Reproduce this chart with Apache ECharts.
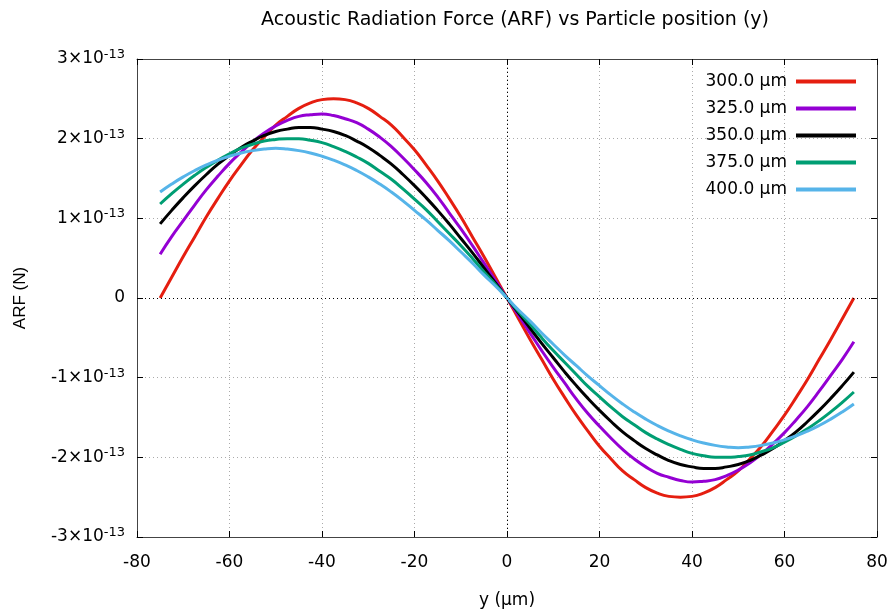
<!DOCTYPE html>
<html>
<head>
<meta charset="utf-8">
<script src="https://cdn.jsdelivr.net/npm/echarts@6/dist/echarts.min.js"></script>
<style>
  html, body { margin: 0; padding: 0; background: #fff; }
  #main { width: 894px; height: 616px; }
</style>
</head>
<body>
<div id="main"></div>
<script>
// particle position y (µm), -75 .. 75 every 2.5
var positions = [-75, -72.5, -70, -67.5, -65, -62.5, -60, -57.5, -55, -52.5, -50, -47.5, -45, -42.5, -40, -37.5,
                 -35, -32.5, -30, -27.5, -25, -22.5, -20, -17.5, -15, -12.5, -10, -7.5, -5, -2.5,
                 0, 2.5, 5, 7.5, 10, 12.5, 15, 17.5, 20, 22.5, 25, 27.5, 30, 32.5, 35,
                 37.5, 40, 42.5, 45, 47.5, 50, 52.5, 55, 57.5, 60, 62.5, 65, 67.5, 70, 72.5, 75];

// ARF values, in units of 1e-13 N
var arf300 = [0, 0.26, 0.52, 0.77, 1.02, 1.25, 1.47, 1.67, 1.86, 2.02, 2.17, 2.28, 2.38, 2.45, 2.49, 2.50,
              2.49, 2.45, 2.38, 2.28, 2.17, 2.02, 1.86, 1.67, 1.47, 1.25, 1.02, 0.77, 0.52, 0.26,
              0, -0.26, -0.52, -0.77, -1.02, -1.25, -1.47, -1.67, -1.86, -2.02, -2.17, -2.28, -2.38, -2.45, -2.49,
              -2.50, -2.49, -2.45, -2.38, -2.28, -2.17, -2.02, -1.86, -1.67, -1.47, -1.25, -1.02, -0.77, -0.52, -0.26, 0];
var arf325 = [0.55, 0.77, 0.97, 1.17, 1.36, 1.53, 1.69, 1.83, 1.96, 2.07, 2.16, 2.23, 2.28, 2.30, 2.31, 2.29,
              2.25, 2.20, 2.12, 2.02, 1.90, 1.76, 1.61, 1.45, 1.27, 1.07, 0.87, 0.66, 0.44, 0.22,
              0, -0.22, -0.44, -0.66, -0.87, -1.07, -1.27, -1.45, -1.61, -1.76, -1.90, -2.02, -2.12, -2.20, -2.25,
              -2.29, -2.31, -2.30, -2.28, -2.23, -2.16, -2.07, -1.96, -1.83, -1.69, -1.53, -1.36, -1.17, -0.97, -0.77, -0.55];
var arf350 = [0.93, 1.10, 1.26, 1.41, 1.55, 1.68, 1.79, 1.89, 1.97, 2.04, 2.09, 2.12, 2.14, 2.14, 2.12, 2.09,
              2.04, 1.97, 1.89, 1.79, 1.68, 1.55, 1.41, 1.26, 1.10, 0.93, 0.75, 0.57, 0.38, 0.19,
              0, -0.19, -0.38, -0.57, -0.75, -0.93, -1.10, -1.26, -1.41, -1.55, -1.68, -1.79, -1.89, -1.97, -2.04,
              -2.09, -2.12, -2.14, -2.14, -2.12, -2.09, -2.04, -1.97, -1.89, -1.79, -1.68, -1.55, -1.41, -1.26, -1.10, -0.93];
var arf375 = [1.18, 1.31, 1.43, 1.54, 1.64, 1.73, 1.81, 1.88, 1.93, 1.97, 1.99, 2.00, 2.00, 1.98, 1.95, 1.90,
              1.84, 1.77, 1.69, 1.59, 1.49, 1.37, 1.24, 1.11, 0.96, 0.81, 0.66, 0.50, 0.33, 0.17,
              0, -0.17, -0.33, -0.50, -0.66, -0.81, -0.96, -1.11, -1.24, -1.37, -1.49, -1.59, -1.69, -1.77, -1.84,
              -1.90, -1.95, -1.98, -2.00, -2.00, -1.99, -1.97, -1.93, -1.88, -1.81, -1.73, -1.64, -1.54, -1.43, -1.31, -1.18];
var arf400 = [1.33, 1.43, 1.52, 1.60, 1.67, 1.73, 1.78, 1.82, 1.85, 1.87, 1.88, 1.87, 1.85, 1.82, 1.78, 1.73,
              1.67, 1.60, 1.52, 1.43, 1.33, 1.22, 1.10, 0.98, 0.85, 0.72, 0.58, 0.44, 0.29, 0.15,
              0, -0.15, -0.29, -0.44, -0.58, -0.72, -0.85, -0.98, -1.10, -1.22, -1.33, -1.43, -1.52, -1.60, -1.67,
              -1.73, -1.78, -1.82, -1.85, -1.87, -1.88, -1.87, -1.85, -1.82, -1.78, -1.73, -1.67, -1.60, -1.52, -1.43, -1.33];

var seriesNames = ['300.0 µm', '325.0 µm', '350.0 µm', '375.0 µm', '400.0 µm'];
var seriesValues = [arf300, arf325, arf350, arf375, arf400];
var colors = ['#e51e10', '#9400d3', '#000000', '#009e73', '#56b4e9'];

var xTicks = { min: -80, max: 80, interval: 20 };
var yTicks = { min: -3, max: 3, interval: 1 };

var FONT = 'DejaVu Sans';
var frameColor = '#444';
var gridLine = { show: true, lineStyle: { color: '#aaa', type: [1, 3], width: 1 } };
var tick = { show: true, inside: true, length: 6, lineStyle: { color: '#000' } };

function pairs(vals) {
    return positions.map(function (p, i) { return [p, vals[i]]; });
}

var series = seriesValues.map(function (vals, i) {
    return {
        name: seriesNames[i],
        type: 'line',
        data: pairs(vals),
        smooth: 0.5,
        showSymbol: false,
        symbol: 'none',
        lineStyle: { width: 3, color: colors[i] },
        itemStyle: { color: colors[i] },
        z: 3
    };
});

// dotted zero axes
series.unshift({
    name: 'zero',
    type: 'line',
    data: [],
    silent: true,
    markLine: {
        silent: true,
        symbol: 'none',
        label: { show: false },
        lineStyle: { color: '#000', type: [1, 3], width: 1 },
        data: [{ xAxis: 0 }, { yAxis: 0 }]
    }
});

var chart = echarts.init(document.getElementById('main'), null, { renderer: 'canvas' });
chart.setOption({
    animation: false,
    textStyle: { fontFamily: FONT },
    title: {
        text: 'Acoustic Radiation Force (ARF) vs Particle position (y)',
        left: 510,
        top: 6,
        textAlign: 'center',
        textStyle: { fontFamily: FONT, fontSize: 19, fontWeight: 'normal', color: '#000' }
    },
    grid: { left: 137, right: 17, top: 59, bottom: 79 },
    legend: {
        data: seriesNames,
        orient: 'vertical',
        right: 33,
        top: 68,
        align: 'right',
        itemWidth: 60,
        itemHeight: 4,
        itemGap: 10,
        icon: 'rect',
        textStyle: { fontFamily: FONT, fontSize: 17, color: '#000', padding: [0, 4, 0, 0] }
    },
    xAxis: [{
        type: 'value',
        min: xTicks.min, max: xTicks.max, interval: xTicks.interval,
        name: 'y (µm)',
        nameLocation: 'middle',
        nameGap: 55,
        nameTextStyle: { fontFamily: FONT, fontSize: 17, color: '#000' },
        axisLine: { show: true, onZero: false, lineStyle: { color: frameColor, width: 1 } },
        axisTick: tick,
        axisLabel: { fontFamily: FONT, fontSize: 17, color: '#000', margin: 17 },
        splitLine: gridLine
    }, {
        type: 'value',
        position: 'top',
        min: xTicks.min, max: xTicks.max, interval: xTicks.interval,
        axisLine: { show: true, onZero: false, lineStyle: { color: frameColor, width: 1 } },
        axisTick: tick,
        axisLabel: { show: false },
        splitLine: { show: false }
    }],
    yAxis: [{
        type: 'value',
        min: yTicks.min, max: yTicks.max, interval: yTicks.interval,
        name: 'ARF (N)',
        nameLocation: 'middle',
        nameGap: 108,
        nameRotate: 90,
        nameTextStyle: { fontFamily: 'Liberation Sans', fontSize: 17, color: '#000' },
        axisLine: { show: true, onZero: false, lineStyle: { color: frameColor, width: 1 } },
        axisTick: tick,
        axisLabel: {
            margin: 12,
            formatter: function (v) {
                if (v === 0) return '{b|0}';
                return '{b|' + v + '×10}{s|-13}';
            },
            rich: {
                b: { fontFamily: FONT, fontSize: 17, color: '#000' },
                s: { fontFamily: FONT, fontSize: 13, color: '#000', verticalAlign: 'top', padding: [0, 0, 9, 0] }
            }
        },
        splitLine: gridLine
    }, {
        type: 'value',
        position: 'right',
        min: yTicks.min, max: yTicks.max, interval: yTicks.interval,
        axisLine: { show: true, onZero: false, lineStyle: { color: frameColor, width: 1 } },
        axisTick: tick,
        axisLabel: { show: false },
        splitLine: { show: false }
    }],
    series: series
});
</script>
</body>
</html>
